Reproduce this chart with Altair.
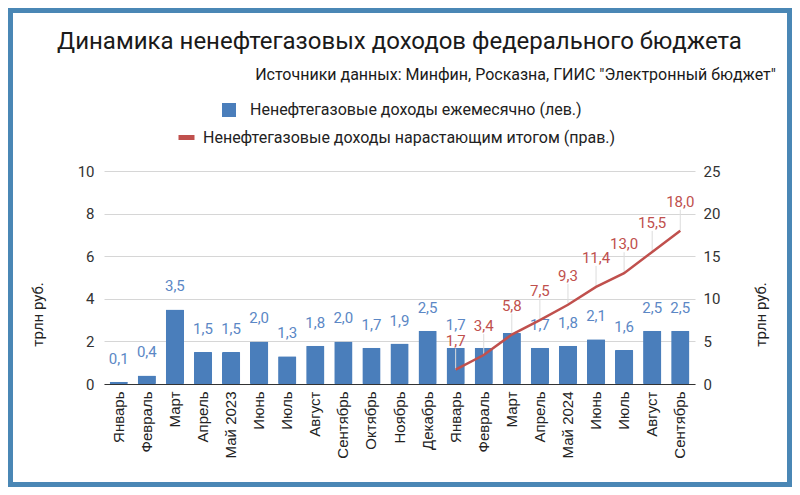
import altair as alt
import pandas as pd

# ---------------- data ----------------
months = ["Январь", "Февраль", "Март", "Апрель", "Май 2023", "Июнь", "Июль", "Август",
          "Сентябрь", "Октябрь", "Ноябрь", "Декабрь",
          "Январь", "Февраль", "Март", "Апрель", "Май 2024", "Июнь", "Июль", "Август",
          "Сентябрь"]
monthly = [0.1, 0.4, 3.5, 1.5, 1.5, 2.0, 1.3, 1.8, 2.0, 1.7, 1.9, 2.5,
           1.7, 1.7, 2.4, 1.7, 1.8, 2.1, 1.6, 2.5, 2.5]
# blue value labels hidden in the original (Feb and Mar 2024)
label_shown = [True] * 13 + [False, False] + [True] * 6
cum_months_idx = [12, 13, 14, 15, 16, 17, 18, 19, 20]
cumulative = [1.7, 3.4, 5.8, 7.5, 9.3, 11.4, 13.0, 15.5, 18.0]

title_text = "Динамика ненефтегазовых доходов федерального бюджета"
subtitle_text = 'Источники данных: Минфин, Росказна, ГИИС "Электронный бюджет"'
name_bar = "Ненефтегазовые доходы ежемесячно (лев.)"
name_line = "Ненефтегазовые доходы нарастающим итогом (прав.)"
axis_title = "трлн руб."
left_ticks = [0, 2, 4, 6, 8, 10]
right_ticks = [0, 5, 10, 15, 20, 25]

keys = [f"{m}|{i}" for i, m in enumerate(months)]
df_bar = pd.DataFrame({"key": keys, "monthly": monthly, "show": label_shown})
df_line = pd.DataFrame({"key": [keys[i] for i in cum_months_idx], "cum": cumulative})

# ---------------- style ----------------
W, H = 591, 213
PAD = {"left": 96, "top": 163, "right": 97, "bottom": 103}
BLUE = "#4a7ebb"
BLUE_TXT = "#5b87c5"
RED = "#c0504d"
FRAME = "#4a87b5"
FONT = "Roboto"

x_enc = alt.X(
    "key:N",
    sort=keys,
    scale=alt.Scale(domain=keys, paddingInner=0.35, paddingOuter=0.2),
    axis=alt.Axis(
        labelExpr="split(datum.label, '|')[0]",
        labelAngle=-90,
        labelFont="Liberation Sans",
        labelFontSize=15,
        labelColor="#222222",
        labelPadding=7,
        ticks=False,
        domainColor="#333333",
        domainWidth=1,
        grid=False,
        title=None,
    ),
)

fmt = "replace(format(datum.{f}, '.1f'), '.', ',')"

# ---- bars (left axis) ----
y_left = alt.Y(
    "monthly:Q",
    scale=alt.Scale(domain=[0, 10], nice=False, zero=True),
    axis=alt.Axis(
        values=left_ticks,
        grid=True,
        gridColor="#d6d6d6",
        domain=False,
        ticks=False,
        labelFont=FONT,
        labelFontSize=15,
        labelColor="#333333",
        labelPadding=10,
        title=axis_title,
        titleFont=FONT,
        titleFontSize=15,
        titleFontWeight="normal",
        titleColor="#222222",
        titleAngle=-90,
        titleAlign="center",
        titleBaseline="middle",
        titleX=-67,
        titleY=143,
    ),
)

base_bar = alt.Chart(df_bar).transform_calculate(
    series=f"'{name_bar}'", lbl=fmt.format(f="monthly")
)

bars = base_bar.mark_bar(cornerRadius=1).encode(
    x=x_enc,
    y=y_left,
    color=alt.Color(
        "series:N",
        scale=alt.Scale(domain=[name_bar], range=[BLUE]),
        legend=alt.Legend(
            orient="none",
            legendX=117,
            legendY=-69,
            title=None,
            symbolType="square",
            symbolSize=196,
            symbolStrokeWidth=0,
            labelFont=FONT,
            labelFontSize=16,
            labelColor="#222222",
            labelOffset=13,
            labelLimit=600,
        ),
    ),
)

bar_text = base_bar.transform_filter("datum.show").mark_text(
    dy=-18, baseline="alphabetic", align="center", font=FONT, fontSize=15, color=BLUE_TXT
).encode(x=x_enc, y=y_left, text="lbl:N")

bar_layer = alt.layer(bars, bar_text)

# ---- cumulative line (right axis) ----
y_right = alt.Y(
    "cum:Q",
    scale=alt.Scale(domain=[0, 25], nice=False, zero=True),
    axis=alt.Axis(
        orient="right",
        values=right_ticks,
        grid=False,
        domain=False,
        ticks=False,
        labelFont=FONT,
        labelFontSize=15,
        labelColor="#333333",
        labelPadding=8,
        title=axis_title,
        titleFont=FONT,
        titleFontSize=15,
        titleFontWeight="normal",
        titleColor="#222222",
        titleAngle=-90,
        titleAlign="center",
        titleBaseline="middle",
        titleX=65,
        titleY=143,
    ),
)

base_line = alt.Chart(df_line).transform_calculate(
    series=f"'{name_line}'", lbl=fmt.format(f="cum")
)

leaders = base_line.mark_rule(color="#dcdcdc", strokeWidth=1, y2Offset=-21).encode(
    x=x_enc, y=y_right, y2=alt.Y2("cum:Q")
)

line = base_line.mark_line(strokeWidth=2.5).encode(
    x=x_enc,
    y=y_right,
    color=alt.Color(
        "series:N",
        scale=alt.Scale(domain=[name_line], range=[RED]),
        legend=alt.Legend(
            orient="none",
            legendX=72,
            legendY=-44,
            title=None,
            symbolType="stroke",
            symbolSize=256,
            symbolStrokeWidth=5,
            labelFont=FONT,
            labelFontSize=16,
            labelColor="#222222",
            labelOffset=6,
            labelLimit=600,
        ),
    ),
)

line_text = base_line.mark_text(
    dy=-24, baseline="alphabetic", align="center", font=FONT, fontSize=15, color=RED
).encode(x=x_enc, y=y_right, text="lbl:N")

line_layer = alt.layer(leaders, line, line_text)

# ---- decorations: title, subtitle, frame ----
one = pd.DataFrame({"t": [title_text], "s": [subtitle_text]})

title = alt.Chart(one).mark_text(
    align="center", baseline="alphabetic", font=FONT, fontSize=24, color="#1a1a1a"
).encode(x=alt.value(W / 2), y=alt.value(-122), text="t:N")

subtitle = alt.Chart(one).mark_text(
    align="right", baseline="alphabetic", font=FONT, fontSize=16, color="#1a1a1a"
).encode(x=alt.value(672), y=alt.value(-91), text="s:N")

frame = alt.Chart(one).mark_rect(filled=False, stroke=FRAME, strokeWidth=5).encode(
    x=alt.value(-PAD["left"] + 2.5),
    x2=alt.value(W + PAD["right"] - 2.5),
    y=alt.value(-PAD["top"] + 2.5),
    y2=alt.value(H + PAD["bottom"] - 2.5),
)

chart = (
    alt.layer(frame, title, subtitle, bar_layer, line_layer)
    .resolve_scale(y="independent", color="independent")
    .properties(
        width=W,
        height=H,
        padding=PAD,
        autosize=alt.AutoSizeParams(type="none"),
        background="white",
    )
    .configure_view(stroke=None)
)

chart.save("out.html", embed_options={"renderer": "svg", "actions": False})
